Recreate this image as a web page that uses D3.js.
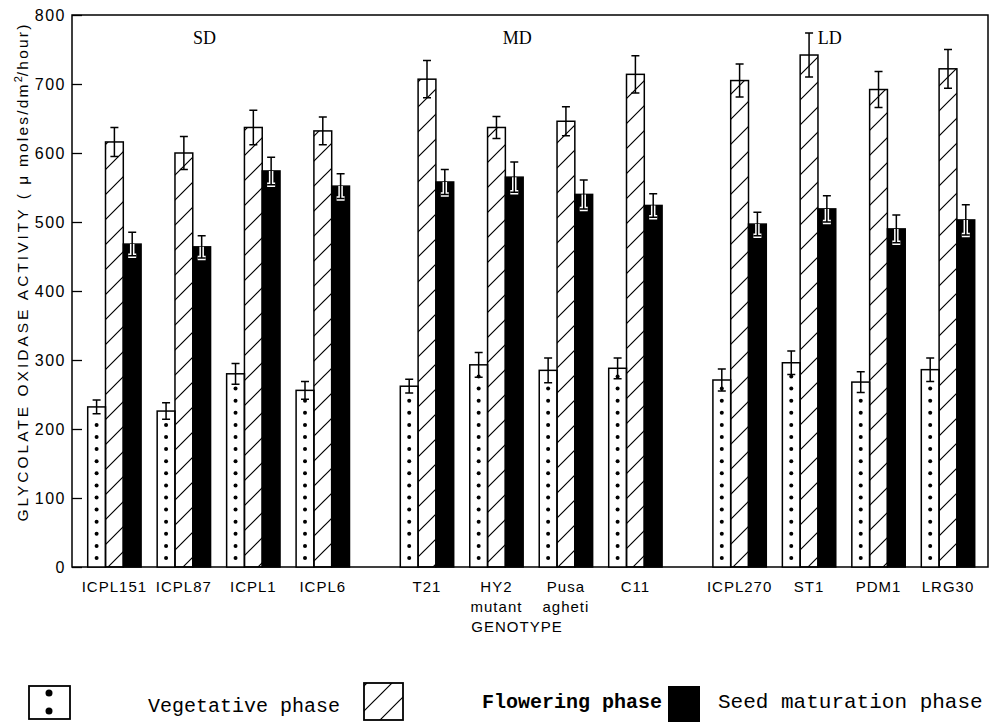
<!DOCTYPE html>
<html>
<head>
<meta charset="utf-8">
<script src="https://cdn.jsdelivr.net/npm/d3@7/dist/d3.min.js"></script>
<style>
  body { margin: 0; background: #fff; }
  text { fill: #000; }
</style>
</head>
<body>
<svg id="chart" width="990" height="722"></svg>
<script>
// genotypes and their daylength group
let genotypes = ['ICPL151', 'ICPL87', 'ICPL1', 'ICPL6', 'T21', 'HY2', 'Pusa', 'C11', 'ICPL270', 'ST1', 'PDM1', 'LRG30'];
let genotypeSub = ['', '', '', '', '', 'mutant', 'agheti', '', '', '', '', ''];
let groups = ['SD', 'MD', 'LD'];
let groupOf = [0, 0, 0, 0, 1, 1, 1, 1, 2, 2, 2, 2];

// glycolate oxidase activity per phase, with error
let vegetative = [232, 226, 280, 256, 262, 293, 285, 288, 271, 296, 268, 286];
let vegetativeErr = [10, 12, 15, 13, 10, 18, 18, 15, 16, 17, 15, 17];
let flowering = [616, 600, 637, 632, 707, 637, 646, 714, 705, 742, 692, 722];
let floweringErr = [21, 24, 25, 20, 27, 16, 21, 27, 24, 32, 26, 28];
let seed = [468, 464, 574, 552, 558, 565, 540, 524, 497, 519, 490, 503];
let seedErr = [17, 16, 20, 18, 18, 22, 21, 17, 17, 19, 20, 22];

let yTicks = [0, 100, 200, 300, 400, 500, 600, 700, 800];
let legendLabels = ['Vegetative phase', 'Flowering phase', 'Seed maturation phase'];

let svg = d3.select('#chart');
let defs = svg.append('defs');
let hatch = defs.append('pattern')
    .attr('id', 'hatch')
    .attr('patternUnits', 'userSpaceOnUse')
    .attr('width', 25)
    .attr('height', 25);
hatch.append('path')
    .attr('d', 'M-6,6 L6,-6 M0,25 L25,0 M19,31 L31,19')
    .attr('stroke', '#000')
    .attr('stroke-width', 1.2);

let y = d3.scaleLinear().domain([0, 800]).range([567, 15]);
let slot = d3.scaleLinear().domain([0, 12]).range([87.7, 921.3]);
let barW = 17.8;
let groupX = i => slot(i + groupOf[i] * 0.5);

let series = [
    { values: vegetative, err: vegetativeErr, fill: '#fff' },
    { values: flowering, err: floweringErr, fill: 'url(#hatch)' },
    { values: seed, err: seedErr, fill: '#000' }
];

// frame
svg.append('rect')
    .attr('x', 72).attr('y', y(800))
    .attr('width', 988 - 72).attr('height', y(0) - y(800))
    .attr('fill', 'none').attr('stroke', '#000').attr('stroke-width', 1.5);

// y axis
let yAxis = svg.append('g')
    .attr('transform', 'translate(72,0)')
    .call(d3.axisLeft(y).tickValues(yTicks).tickSize(-10).tickPadding(6).tickFormat(d3.format('d')));
yAxis.select('.domain').remove();
yAxis.selectAll('line').attr('stroke', '#000').attr('stroke-width', 1.3);
yAxis.selectAll('text')
    .attr('font-family', 'Liberation Sans, Arial, sans-serif')
    .attr('font-size', 16)
    .attr('letter-spacing', 1.5)
    .attr('fill', '#000');

// bars
let bars = [];
genotypes.forEach((g, i) => {
    series.forEach((s, k) => {
        bars.push({ i: i, k: k, v: s.values[i], e: s.err[i], fill: s.fill, x: groupX(i) + k * barW });
    });
});

svg.append('g').selectAll('rect').data(bars).enter()
    .append('rect')
    .attr('x', d => d.x)
    .attr('y', d => y(d.v))
    .attr('width', barW)
    .attr('height', d => y(0) - y(d.v))
    .attr('fill', d => d.fill)
    .attr('stroke', '#000')
    .attr('stroke-width', 1.5);

// dots inside vegetative bars
let dots = [];
bars.filter(d => d.k == 0).forEach(d => {
    for (let cy = y(0) - 9; cy > y(d.v) + 8; cy -= 12.1) {
        dots.push([d.x + barW / 2, cy]);
    }
});
svg.append('g').selectAll('circle').data(dots).enter()
    .append('circle')
    .attr('cx', d => d[0])
    .attr('cy', d => d[1])
    .attr('r', 2)
    .attr('fill', '#000');

// error bars
let cap = 4;
let eb = svg.append('g').selectAll('g').data(bars).enter().append('g');
// white halo for the part inside black bars
eb.filter(d => d.k == 2).append('path')
    .attr('d', d => {
        let cx = d.x + barW / 2;
        return 'M' + cx + ',' + y(d.v) + 'V' + y(d.v - d.e) + 'M' + (cx - cap) + ',' + y(d.v - d.e) + 'H' + (cx + cap);
    })
    .attr('stroke', '#fff').attr('stroke-width', 4.5).attr('fill', 'none');
eb.append('path')
    .attr('d', d => {
        let cx = d.x + barW / 2;
        let t = y(d.v + d.e), b = y(d.v - d.e);
        return 'M' + cx + ',' + t + 'V' + b +
            'M' + (cx - cap) + ',' + t + 'H' + (cx + cap) +
            'M' + (cx - cap) + ',' + b + 'H' + (cx + cap);
    })
    .attr('stroke', '#000').attr('stroke-width', 1.5).attr('fill', 'none');

// group labels
let groupMid = groups.map((g, j) => {
    let idx = groupOf.map((o, i) => o == j ? i : -1).filter(i => i >= 0);
    return (groupX(idx[0]) + groupX(idx[idx.length - 1]) + 3 * barW) / 2;
});
svg.append('g').selectAll('text').data(groups).enter()
    .append('text')
    .attr('x', (d, j) => groupMid[j] - 14)
    .attr('y', 44)
    .attr('text-anchor', 'middle')
    .attr('font-family', 'Liberation Serif, Times New Roman, serif')
    .attr('font-size', 18)
    .text(d => d);

// genotype labels
let xl = svg.append('g')
    .attr('font-family', 'Liberation Sans, Arial, sans-serif')
    .attr('font-size', 15)
    .attr('letter-spacing', 1);
xl.selectAll('text.l1').data(genotypes).enter()
    .append('text')
    .attr('x', (d, i) => groupX(i) + 1.5 * barW)
    .attr('y', 592)
    .attr('text-anchor', 'middle')
    .text(d => d);
xl.selectAll('text.l2').data(genotypeSub).enter()
    .append('text')
    .attr('x', (d, i) => groupX(i) + 1.5 * barW)
    .attr('y', 612)
    .attr('text-anchor', 'middle')
    .text(d => d);
xl.append('text')
    .attr('x', 517).attr('y', 632)
    .attr('text-anchor', 'middle')
    .text('GENOTYPE');

// y axis title
let yt = svg.append('text')
    .attr('transform', 'translate(28,272) rotate(-90)')
    .attr('text-anchor', 'middle')
    .attr('font-family', 'Liberation Sans, Arial, sans-serif')
    .attr('font-size', 15.5);
yt.append('tspan').attr('letter-spacing', 3).text('GLYCOLATE OXIDASE ACTIVITY (');
yt.append('tspan').attr('letter-spacing', 2.2).text(' \u03bc moles/dm');
yt.append('tspan').attr('font-size', 11).attr('dy', -6).text('2');
yt.append('tspan').attr('letter-spacing', 2.2).attr('dy', 6).text('/hour)');

// legend
let lg = svg.append('g');
lg.append('rect').attr('x', 29).attr('y', 686).attr('width', 41).attr('height', 33)
    .attr('fill', '#fff').attr('stroke', '#000').attr('stroke-width', 1.8);
lg.selectAll('circle').data([693, 711]).enter().append('circle')
    .attr('cx', 49).attr('cy', d => d).attr('r', 3.5).attr('fill', '#000');
lg.append('rect').attr('x', 364).attr('y', 683).attr('width', 39).attr('height', 37)
    .attr('fill', 'url(#hatch)').attr('stroke', '#000').attr('stroke-width', 1.8);
lg.append('rect').attr('x', 668).attr('y', 686).attr('width', 32).attr('height', 36)
    .attr('fill', '#000');
let legendX = [148, 482, 718];
let legendY = [712, 708, 708];
lg.selectAll('text').data(legendLabels).enter()
    .append('text')
    .attr('x', (d, i) => legendX[i])
    .attr('y', (d, i) => legendY[i])
    .attr('font-family', 'Liberation Mono, Courier New, monospace')
    .attr('font-size', (d, i) => i == 2 ? 21 : 20)
    .attr('font-weight', (d, i) => i == 1 ? 'bold' : 'normal')
    .text(d => d);
</script>
</body>
</html>
